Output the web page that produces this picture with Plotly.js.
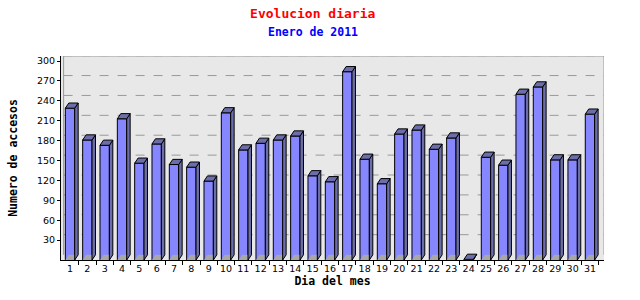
<!DOCTYPE html>
<html>
<head>
<meta charset="utf-8">
<script src="https://cdn.plot.ly/plotly-3.0.1.min.js"></script>
<style>html,body{margin:0;padding:0;background:#fff}#chart{width:640px;height:300px}</style>
</head>
<body>
<div id="chart"></div>
<script>
// ---- data ----
const days = [1,2,3,4,5,6,7,8,9,10,11,12,13,14,15,16,17,18,19,20,21,22,23,24,25,26,27,28,29,30,31];
const dayLabels = days.map(String);
const accesos = [229,181,173,213,146,175,144,140,119,222,166,176,181,187,127,118,284,152,115,190,196,167,184,1,155,143,250,261,151,151,220];
const yTicks = [30,60,90,120,150,180,210,240,270,300];

// ---- 3D look (depth in data units) ----
const halfW = 0.27, dX = 0.2, dY = 7.8;
const xMin = 0.48, xMax = 31.81, yMax = 307.7;

function poly(builder){
  const xs = [], ys = [];
  days.forEach((d, i) => {
    const pts = builder(d, accesos[i]);
    pts.forEach(p => { xs.push(p[0]); ys.push(p[1]); });
    xs.push(pts[0][0]); ys.push(pts[0][1]);
    xs.push(null); ys.push(null);
  });
  return {xs, ys};
}
const shadowFace = poly((d, v) => [[d-halfW,0],[d+halfW,0],[d+halfW+dX,dY],[d-halfW+dX,dY]]);
const sideFace = poly((d, v) => [[d+halfW,0],[d+halfW+dX,dY],[d+halfW+dX,v+dY],[d+halfW,v]]);
const topFace = poly((d, v) => [[d-halfW,v],[d-halfW+dX,v+dY],[d+halfW+dX,v+dY],[d+halfW,v]]);

const traces = [
  {type:'scatter', mode:'lines', x:shadowFace.xs, y:shadowFace.ys, fill:'toself', fillcolor:'#a8a8a8',
   line:{width:0, color:'#a8a8a8'}, hoverinfo:'skip', showlegend:false},
  {type:'scatter', mode:'lines', x:sideFace.xs, y:sideFace.ys, fill:'toself', fillcolor:'#6b6ea8',
   line:{width:1, color:'#000'}, hoverinfo:'skip', showlegend:false},
  {type:'scatter', mode:'lines', x:topFace.xs, y:topFace.ys, fill:'toself', fillcolor:'#6b6ea8',
   line:{width:1, color:'#000'}, hoverinfo:'skip', showlegend:false},
  {type:'bar', x:days, y:accesos, width:2*halfW, marker:{color:'#8686ff', line:{color:'#000', width:1}},
   showlegend:false}
];

const shapes = [];
yTicks.forEach(t => {
  shapes.push({type:'line', xref:'x', yref:'y', x0:xMin+dX*0.75, x1:xMax, y0:t+dY*1.05, y1:t+dY*1.05,
    line:{color:'#999', width:1, dash:'dash'}, layer:'below'});
});
// back frame
shapes.push({type:'line', xref:'x', yref:'y', x0:xMin+dX*0.75, x1:xMax, y0:yMax, y1:yMax, line:{color:'#999', width:1}, layer:'below'});
shapes.push({type:'line', xref:'x', yref:'y', x0:xMax, x1:xMax, y0:dY, y1:yMax, line:{color:'#999', width:1}, layer:'below'});
shapes.push({type:'line', xref:'x', yref:'y', x0:xMin+dX*0.75, x1:xMin+dX*0.75, y0:dY, y1:yMax, line:{color:'#999', width:1}, layer:'below'});

const layout = {
  width:640, height:300,
  margin:{l:61, r:36, t:56, b:40},
  paper_bgcolor:'#fff', plot_bgcolor:'#e8e8e8',
  bargap:0,
  title:{text:'<b>Evolucion diaria</b>',
    font:{family:'DejaVu Sans Mono', size:13, color:'#ff0000'},
    xref:'container', x:0.4886, xanchor:'center', yref:'container', y:0.956, yanchor:'middle'},
  annotations:[{text:'<b>Enero de 2011</b>', xref:'paper', yref:'paper', x:(312.5-61)/543, y:1+(260-32.3)/204-1,
    xanchor:'center', yanchor:'middle', showarrow:false,
    font:{family:'DejaVu Sans Mono', size:11.5, color:'#0000ff'}}],
  xaxis:{range:[xMin, xMax], tickmode:'array', tickvals:days, ticktext:dayLabels, ticks:'',
    showgrid:false, zeroline:false, showline:true, linecolor:'#000', linewidth:1,
    tickfont:{family:'DejaVu Sans', size:9.5, color:'#000'},
    minor:{tickmode:'array', tickvals:days.map(d => d+0.5), ticks:'outside', ticklen:4, tickcolor:'#000', showgrid:false},
    title:{text:'<b>Dia del mes</b>', font:{family:'DejaVu Sans Mono', size:11.5, color:'#000'}, standoff:2},
    fixedrange:true},
  yaxis:{range:[0, yMax], tickmode:'array', tickvals:yTicks, ticks:'outside', ticklen:3, tickcolor:'#000',
    showgrid:false, zeroline:false, showline:true, linecolor:'#000', linewidth:1,
    tickfont:{family:'DejaVu Sans', size:9.5, color:'#000'},
    title:{text:'<b>Numero de accesos</b>', font:{family:'DejaVu Sans Mono', size:11.5, color:'#000'}, standoff:16},
    fixedrange:true},
  shapes:shapes
};

Plotly.newPlot('chart', traces, layout, {displayModeBar:false, staticPlot:true});
</script>
</body>
</html>
